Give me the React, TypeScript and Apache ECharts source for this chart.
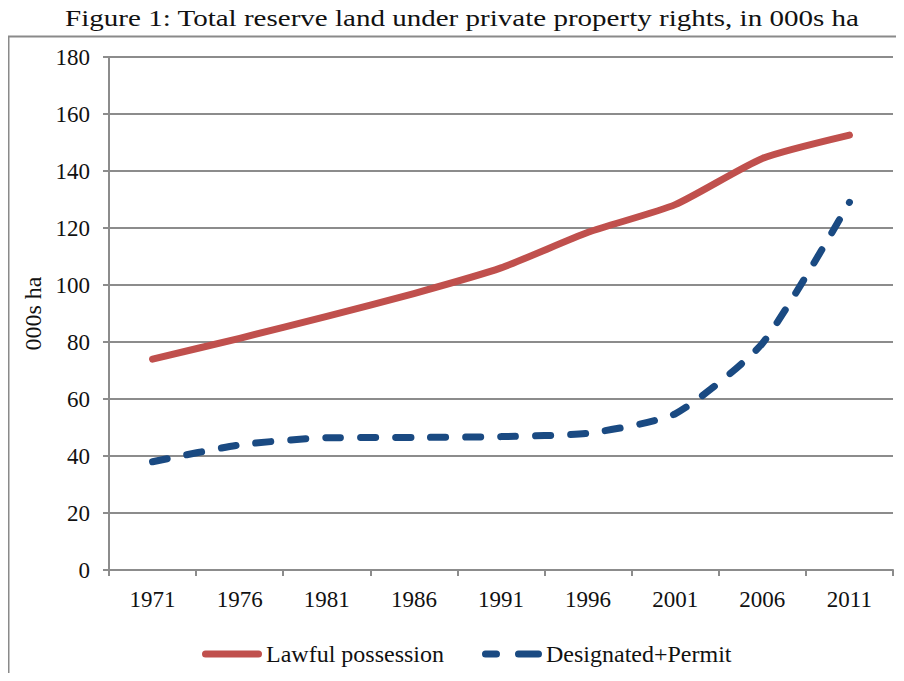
import React, { useEffect, useRef } from "react";
import * as echarts from "echarts";

const years = ["1971", "1976", "1981", "1986", "1991", "1996", "2001", "2006", "2011"];
const lawfulPossession = [74, 81.3, 89, 97, 106, 118.5, 128.2, 144.4, 152.6];
const designatedPermit = [38, 43.9, 46.4, 46.5, 46.8, 48, 54.8, 79.5, 129];
const titleText = "Figure 1: Total reserve land under private property rights, in 000s ha";
const seriesNames = ["Lawful possession", "Designated+Permit"];

const FONT = "Liberation Serif";
const RED = "#c0504d";
const BLUE = "#1a4a82";

const solidIcon =
  "path://M3.5,0H56.5A3.5,3.5 0 0 1 56.5,7H3.5A3.5,3.5 0 0 1 3.5,0Z";
const dashIcon =
  "path://M3.5,0H14.5A3.5,3.5 0 0 1 14.5,7H3.5A3.5,3.5 0 0 1 3.5,0Z M36.5,0H56.5A3.5,3.5 0 0 1 56.5,7H36.5A3.5,3.5 0 0 1 36.5,0Z";

export default function App() {
  const ref = useRef<HTMLDivElement>(null);
  useEffect(() => {
    if (!ref.current) return;
    const chart = echarts.init(ref.current, null, { renderer: "svg" });
    chart.setOption({
      animation: false,
      backgroundColor: "#fff",
      textStyle: { fontFamily: FONT },
      graphic: [
        {
          type: "rect",
          shape: { x: 8.5, y: 36.5, width: 920, height: 700 },
          style: { fill: "none", stroke: "#8a8a8a", lineWidth: 2 },
          silent: true,
          z: -1,
        },
        {
          type: "text",
          x: 462,
          y: 18,
          scaleX: 1.21,
          style: {
            text: titleText,
            fontFamily: FONT,
            fontSize: 24,
            fill: "#111",
            textAlign: "center",
            textVerticalAlign: "middle",
          },
          silent: true,
        },
      ],
      grid: { left: 109, right: 11, top: 57, bottom: 111, containLabel: false },
      legend: {
        top: 637,
        left: 197,
        itemWidth: 60,
        itemHeight: 7,
        itemGap: 38,
        textStyle: { fontFamily: FONT, fontSize: 24, color: "#111", padding: [0, 0, 0, -1] },
        data: [
          { name: seriesNames[0], icon: solidIcon, itemStyle: { color: RED } },
          { name: seriesNames[1], icon: dashIcon, itemStyle: { color: BLUE } },
        ],
      },
      xAxis: {
        type: "category",
        data: years,
        boundaryGap: true,
        axisLine: { lineStyle: { color: "#8c8c8c", width: 2 } },
        axisTick: { show: true, length: 6, alignWithLabel: false, lineStyle: { color: "#8c8c8c", width: 2 } },
        axisLabel: { fontFamily: FONT, fontSize: 23, color: "#111", margin: 18 },
      },
      yAxis: {
        type: "value",
        min: 0,
        max: 180,
        interval: 20,
        name: "000s ha",
        nameLocation: "middle",
        nameGap: 64,
        nameTextStyle: { fontFamily: FONT, fontSize: 24, color: "#111" },
        axisLine: { show: true, lineStyle: { color: "#8c8c8c", width: 2 } },
        axisTick: { show: true, length: 6, lineStyle: { color: "#8c8c8c", width: 2 } },
        axisLabel: { fontFamily: FONT, fontSize: 23, color: "#111", margin: 19 },
        splitLine: { show: true, lineStyle: { color: "#8c8c8c", width: 2 } },
      },
      series: [
        {
          name: seriesNames[0],
          type: "line",
          data: lawfulPossession,
          smooth: 0.2,
          symbol: "none",
          color: RED,
          lineStyle: { color: RED, width: 7, cap: "round", join: "round" },
        },
        {
          name: seriesNames[1],
          type: "line",
          data: designatedPermit,
          smooth: 0.2,
          symbol: "none",
          color: BLUE,
          lineStyle: { color: BLUE, width: 7, type: [15, 20], cap: "round", join: "round" },
        },
      ],
    });
    return () => chart.dispose();
  }, []);
  return <div ref={ref} style={{ width: 904, height: 681, margin: -8 }} />;
}
